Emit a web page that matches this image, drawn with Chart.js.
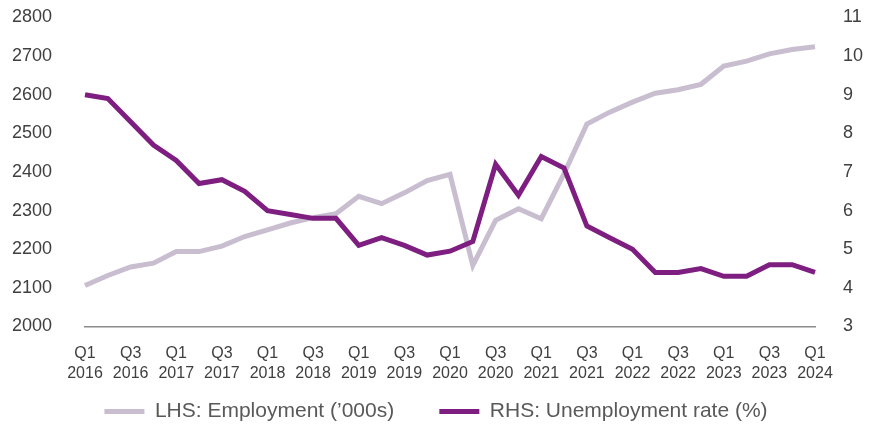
<!DOCTYPE html>
<html>
<head>
<meta charset="utf-8">
<script src="https://cdn.jsdelivr.net/npm/chart.js@4/dist/chart.umd.min.js"></script>
<style>
  html, body { margin: 0; padding: 0; background: #ffffff; }
  #wrap { width: 872px; height: 428px; }
</style>
</head>
<body>
<div id="wrap"><canvas id="c" width="872" height="428"></canvas></div>
<script>
// Quarters (categories)
const quarters = [
  'Q1 2016','Q2 2016','Q3 2016','Q4 2016',
  'Q1 2017','Q2 2017','Q3 2017','Q4 2017',
  'Q1 2018','Q2 2018','Q3 2018','Q4 2018',
  'Q1 2019','Q2 2019','Q3 2019','Q4 2019',
  'Q1 2020','Q2 2020','Q3 2020','Q4 2020',
  'Q1 2021','Q2 2021','Q3 2021','Q4 2021',
  'Q1 2022','Q2 2022','Q3 2022','Q4 2022',
  'Q1 2023','Q2 2023','Q3 2023','Q4 2023',
  'Q1 2024'
];
// LHS: Employment ('000s)
const employment = [
  2106, 2132, 2154, 2164, 2194, 2194, 2208, 2233,
  2250, 2268, 2282, 2292, 2337, 2318, 2346, 2378,
  2394, 2158, 2275, 2305, 2279, 2396, 2524, 2555,
  2581, 2604, 2613, 2627, 2674, 2687, 2706, 2717,
  2724
];
// RHS: Unemployment rate (%)
const unemployment = [
  9.0, 8.9, 8.3, 7.7, 7.3, 6.7, 6.8, 6.5,
  6.0, 5.9, 5.8, 5.8, 5.1, 5.3, 5.1, 4.85,
  4.95, 5.2, 7.2, 6.4, 7.4, 7.1, 5.6, 5.3,
  5.0, 4.4, 4.4, 4.5, 4.3, 4.3, 4.6, 4.6,
  4.4
];
const seriesNames = ["LHS: Employment (\u2019000s)", "RHS: Unemployment rate (%)"];
const leftTicks = { min: 2000, max: 2800, step: 100 };
const rightTicks = { min: 3, max: 11, step: 1 };

const GREY = '#c8becf';
const PURPLE = '#7e1e80';
const TICK_COLOR = '#404040';
const FONT = "'Liberation Sans', Arial, sans-serif";

function fixVPad(s) { s.paddingTop = 11; s.paddingBottom = 11; }

new Chart(document.getElementById('c'), {
  type: 'line',
  data: {
    labels: quarters,
    datasets: [
      {
        label: seriesNames[0],
        data: employment,
        yAxisID: 'yL',
        borderColor: GREY,
        backgroundColor: GREY,
        borderWidth: 5,
        pointRadius: 0,
        tension: 0,
        borderJoinStyle: 'miter',
        order: 1
      },
      {
        label: seriesNames[1],
        data: unemployment,
        yAxisID: 'yR',
        borderColor: PURPLE,
        backgroundColor: PURPLE,
        borderWidth: 5,
        pointRadius: 0,
        tension: 0,
        borderJoinStyle: 'miter',
        order: 0
      }
    ]
  },
  options: {
    responsive: false,
    animation: false,
    devicePixelRatio: 1,
    layout: { padding: { top: 17.5, bottom: 0, left: 0, right: 0 } },
    plugins: {
      tooltip: { enabled: false },
      legend: {
        position: 'bottom',
        maxHeight: 43.1,
        labels: {
          font: { family: FONT, size: 21 },
          color: '#595959',
          boxWidth: 40,
          boxHeight: 5,
          padding: 16,
          sort: (a, b) => a.datasetIndex - b.datasetIndex,
          generateLabels: (chart) => Chart.defaults.plugins.legend.labels.generateLabels(chart)
            .map(l => Object.assign(l, {
              lineWidth: 0,
              strokeStyle: 'rgba(0,0,0,0)',
              text: l.datasetIndex === 0 ? l.text + '     ' : l.text
            }))
        }
      }
    },
    scales: {
      x: {
        type: 'category',
        offset: false,
        grid: { display: false, drawTicks: false, tickLength: 0 },
        border: { display: true, color: '#8c8c8c', width: 1.5 },
        ticks: {
          autoSkip: false,
          maxRotation: 0,
          minRotation: 0,
          padding: 17,
          color: TICK_COLOR,
          font: { family: FONT, size: 16, lineHeight: 1.25 },
          callback: function (value, index) {
            if (index % 2 !== 0) return '';
            return quarters[index].split(' ');
          }
        },
        afterFit: (s) => { s.height = 58.4; }
      },
      yL: {
        position: 'left',
        min: leftTicks.min,
        max: leftTicks.max,
        grid: { display: false, drawTicks: false, tickLength: 0 },
        border: { display: false },
        ticks: {
          stepSize: leftTicks.step,
          padding: 33,
          color: TICK_COLOR,
          font: { family: FONT, size: 18 },
          callback: (v) => String(v)
        },
        afterFit: (s) => { s.width = 85; fixVPad(s); }
      },
      yR: {
        position: 'right',
        min: rightTicks.min,
        max: rightTicks.max,
        grid: { display: false, drawTicks: false, tickLength: 0 },
        border: { display: false },
        ticks: {
          stepSize: rightTicks.step,
          padding: 28,
          color: TICK_COLOR,
          font: { family: FONT, size: 18 },
          callback: (v) => String(v)
        },
        afterFit: (s) => { s.width = 57; fixVPad(s); }
      }
    }
  }
});
</script>
</body>
</html>
